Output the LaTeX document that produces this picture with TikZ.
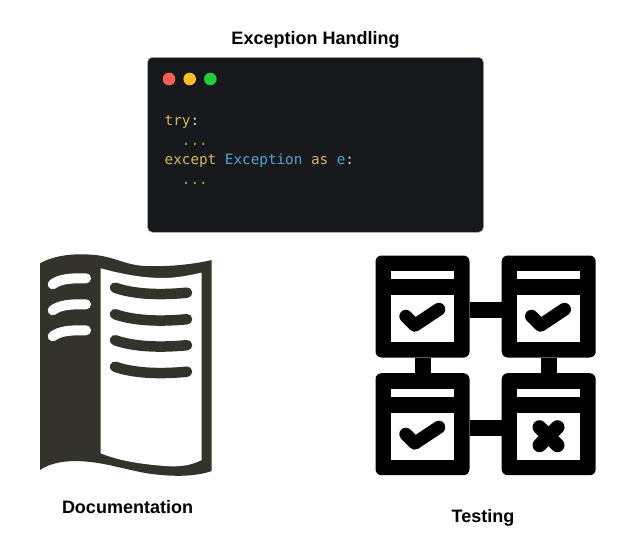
\documentclass[tikz,border=0pt]{standalone}
\usepackage{fontspec}
\setmainfont{Liberation Sans}
\setmonofont{DejaVu Sans Mono}
\definecolor{panelbg}{HTML}{17181C}
\definecolor{bookdark}{HTML}{33332B}
\definecolor{kwyellow}{HTML}{D4B95E}
\definecolor{kwblue}{HTML}{4AA8D0}
\definecolor{kwgreen}{HTML}{8FB030}
\definecolor{kwwhite}{HTML}{D8D8D8}
\tikzset{
    heading/.style={font=\fontsize{18}{22}\selectfont\bfseries},
    codeline/.style={anchor=base west, inner sep=0pt, font=\fontsize{14.3}{17}\selectfont\ttfamily},
    dot/.style={circle, minimum size=12.6pt, inner sep=0pt},
    testbox/.style={fill=black, rounded corners=6pt, minimum width=94pt, minimum height=102pt, inner sep=0pt},
    slit/.style={fill=white, minimum width=63pt, minimum height=8pt, inner sep=0pt},
    pane/.style={fill=white, minimum width=63pt, minimum height=47pt, inner sep=0pt},
    link/.style={line width=16pt},
    tick/.style={line width=13pt, line cap=round, line join=round},
    bookline/.style={line width=10.5pt, line cap=round, bookdark},
    bookgap/.style={line width=10pt, line cap=round, white}
}
\begin{document}
\begin{tikzpicture}[x=1pt,y=-1pt]
    \useasboundingbox (0,0) rectangle (620,540);

    % code panel
    \node (title) at (315.5,39.5) [heading] {Exception Handling};
    \node (panel) at (315.5,144.8) [fill=panelbg, draw=black!30, line width=0.5pt, rounded corners=5pt, minimum width=336pt, minimum height=175pt, inner sep=0pt] {};
    \node (red) at (169,79) [dot, fill={rgb,255:red,255;green,95;blue,86}] {};
    \node (amber) at (189.7,79) [dot, fill={rgb,255:red,255;green,189;blue,46}] {};
    \node (lime) at (210.3,79) [dot, fill={rgb,255:red,39;green,201;blue,63}] {};
    \node (try) at (164.5,125.5) [codeline] {\textcolor{kwyellow}{try}\textcolor{kwwhite}{:}};
    \node (trybody) at (181.7,146) [codeline, kwgreen] {...};
    \node (except) at (164.5,164.5) [codeline] {\textcolor{kwyellow}{except} \textcolor{kwblue}{Exception} \textcolor{kwyellow}{as} \textcolor{kwblue}{e}\textcolor{kwwhite}{:}};
    \node (exceptbody) at (181.7,184) [codeline, kwgreen] {...};

    % book
    \fill[bookdark] (40,263.3) .. controls (55,255) and (75,253) .. (95,255)
        .. controls (115,257) and (125,265) .. (145,266)
        .. controls (170,267) and (195,264) .. (211.7,260)
        -- (211.7,471)
        .. controls (195,477) and (170,477) .. (145,473)
        .. controls (120,468) and (105,463) .. (85,461.5)
        .. controls (65,460) and (50,463) .. (40,470) -- cycle;
    \fill[white] (100.7,268.3) .. controls (125,275) and (145,278) .. (163,278)
        .. controls (178,278) and (190,275) .. (201.7,272.7)
        -- (201.7,460)
        .. controls (190,466) and (178,467) .. (165,466)
        .. controls (140,464) and (120,461) .. (100.7,453.3) -- cycle;
    \foreach \dy in {0,26.5,52.5,79}
        \draw[bookline] (115,287.7+\dy) .. controls (133,294+\dy) and (158,295.5+\dy) .. (187,292.7+\dy);
    \foreach \dy in {0,26,52}
        \draw[bookgap] (52.7,284.3+\dy) .. controls (60,279+\dy) and (70,278+\dy) .. (86,278.3+\dy);
    \node (doc) at (127.5,507) [heading] {Documentation};

    % test grid
    \node (t1) at (422.5,306.5) [testbox] {};
    \node (t2) at (548.7,306.5) [testbox] {};
    \node (t3) at (422.5,424.2) [testbox] {};
    \node (t4) at (548.7,424.2) [testbox] {};

    \draw[link] ([yshift=-3.8pt]t1.east) -- ([yshift=-3.8pt]t2.west);
    \draw[link] ([yshift=-3.8pt]t3.east) -- ([yshift=-3.8pt]t4.west);
    \draw[link] (t1) -- (t3);
    \draw[link] (t2) -- (t4);

    \node (s1) at (422.8,275.3) [slit] {};
    \node (s2) at (548.5,275.3) [slit] {};
    \node (s3) at (422.8,393.3) [slit] {};
    \node (s4) at (548.5,393.3) [slit] {};

    \node (p1) at (422.8,318.3) [pane] {};
    \node (p2) at (548.5,318.3) [pane] {};
    \node (p3) at (422.8,436.2) [pane] {};
    \node (p4) at (548.5,436.2) [pane] {};

    \foreach \p in {p1,p2,p3}
        \draw[tick] ([shift={(-17,-2)}]\p.center) -- ([shift={(-8,7)}]\p.center) -- ([shift={(16,-9)}]\p.center);
    \draw[tick, line width=14pt] ([shift={(-9,-9)}]p4.center) -- ([shift={(9,9)}]p4.center);
    \draw[tick, line width=14pt] ([shift={(-9,9)}]p4.center) -- ([shift={(9,-9)}]p4.center);

    \node (testing) at (483,517.5) [heading] {Testing};
\end{tikzpicture}
\end{document}
